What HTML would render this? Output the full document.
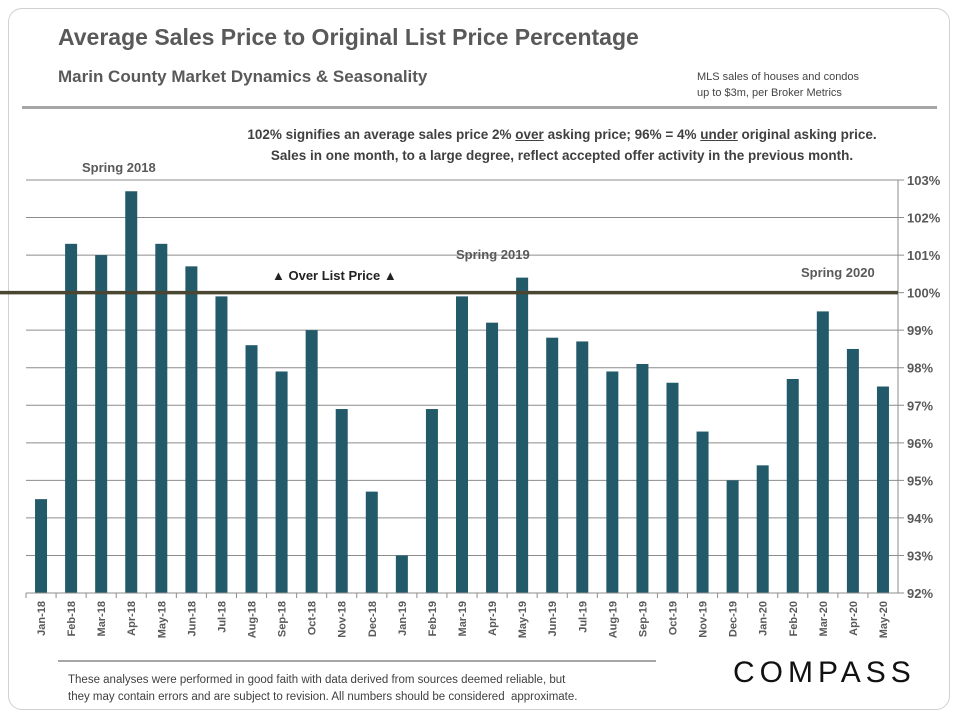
<!DOCTYPE html>
<html><head><meta charset="utf-8"><style>
body{margin:0;background:#fff;font-family:"Liberation Sans",sans-serif;}
#wrap{position:relative;width:960px;height:720px;overflow:hidden;}
.frame{position:absolute;left:8px;top:8px;width:940px;height:700px;border:1px solid #d0d0d0;border-radius:14px;}
.t{position:absolute;white-space:nowrap;color:#595959;font-weight:bold;}
</style></head><body>
<div id="wrap">
<div class="frame"></div>
<div class="t" style="left:58px;top:24px;font-size:23px;">Average Sales Price to Original List Price Percentage</div>
<div class="t" style="left:58px;top:67px;font-size:17px;">Marin County Market Dynamics &amp; Seasonality</div>
<div class="t" style="left:697px;top:69px;font-size:11px;font-weight:normal;color:#444;line-height:16px;">MLS sales of houses and condos<br>up to $3m, per Broker Metrics</div>
<div style="position:absolute;left:22px;top:106px;width:915px;height:3px;background:#a6a6a6;"></div>
<div class="t" style="left:200px;top:124px;width:724px;text-align:center;font-size:13.5px;color:#404040;line-height:21px;">102% signifies an average sales price 2% <u>over</u> asking price; 96% = 4% <u>under</u> original asking price.<br>Sales in one month, to a large degree, reflect accepted offer activity in the previous month.</div>
<svg id="chart" width="960" height="720" style="position:absolute;left:0;top:0"></svg>
<div style="position:absolute;left:58px;top:660px;width:598px;height:2px;background:#a6a6a6;"></div>
<div class="t" style="left:68px;top:672px;font-size:11.5px;font-weight:normal;color:#404040;line-height:17px;">These analyses were performed in good faith with data derived from sources deemed reliable, but<br>they may contain errors and are subject to revision. All numbers should be considered &nbsp;approximate.</div>
<div class="t" style="left:733px;top:656px;font-size:30px;font-weight:normal;color:#111;letter-spacing:5px;">COMPASS</div>
</div>
<script>
const categories=["Jan-18","Feb-18","Mar-18","Apr-18","May-18","Jun-18","Jul-18","Aug-18","Sep-18","Oct-18","Nov-18","Dec-18","Jan-19","Feb-19","Mar-19","Apr-19","May-19","Jun-19","Jul-19","Aug-19","Sep-19","Oct-19","Nov-19","Dec-19","Jan-20","Feb-20","Mar-20","Apr-20","May-20"];
const values=[94.5,101.3,101.0,102.7,101.3,100.7,99.9,98.6,97.9,99.0,96.9,94.7,93.0,96.9,99.9,99.2,100.4,98.8,98.7,97.9,98.1,97.6,96.3,95.0,95.4,97.7,99.5,98.5,97.5];
const yTicks=[92,93,94,95,96,97,98,99,100,101,102,103];
const NS="http://www.w3.org/2000/svg";
const svg=document.getElementById('chart');
const L=26,R=898,T=180,B=593,yMin=92,yMax=103;
const slot=(R-L)/categories.length;
function y(v){return B-(v-yMin)/(yMax-yMin)*(B-T);}
function xc(i){return L+slot*(i+0.5);}
function mk(tag,a){const e=document.createElementNS(NS,tag);for(const k in a)e.setAttribute(k,a[k]);svg.appendChild(e);return e;}
yTicks.forEach(t=>{
 const g=mk('line',{x1:L,x2:R+6,y1:y(t),y2:y(t),stroke:'#8c8c8c','stroke-width':1});
 
 
 const tx=mk('text',{x:R+9,y:y(t)+5,'font-size':13,'font-weight':'bold',fill:'#595959','font-family':'Liberation Sans, sans-serif'});
 tx.textContent=t+'%';
 
 
});
const ax=mk('line',{x1:R,x2:R,y1:T,y2:B,stroke:'#8c8c8c'});


categories.forEach((c,i)=>{
 const r=mk('rect',{x:xc(i)-6,y:y(values[i]),width:12,height:B-y(values[i]),fill:'#225a6a'});
 
 
 const tk=mk('line',{x1:L+slot*i,x2:L+slot*i,y1:B,y2:B+5,stroke:'#8c8c8c'});
 
 
 const tx=mk('text',{x:0,y:0,'font-size':11,'font-weight':'bold',fill:'#595959','text-anchor':'end','font-family':'Liberation Sans, sans-serif',transform:`translate(${xc(i)+4},${B+8}) rotate(-90)`});
 tx.textContent=c;
 
 
});
const bl=mk('line',{x1:L,x2:R+6,y1:B,y2:B,stroke:'#8c8c8c'});


const ref=mk('line',{x1:0,x2:R,y1:y(100),y2:y(100),stroke:'#4a4632','stroke-width':3.5});


[["Spring 2018",82,172,'start'],["Spring 2019",456,259,'start'],["Spring 2020",801,277,'start'],["\u25B2 Over List Price \u25B2",272,280,'start']].forEach(a=>{
 const t=mk('text',{x:a[1],y:a[2],'font-size':13,'font-weight':'bold',fill:a[0].startsWith('\u25B2')?'#222':'#595959','font-family':'Liberation Sans, sans-serif'});
 t.textContent=a[0];
 
 
});
</script>
</body></html>
